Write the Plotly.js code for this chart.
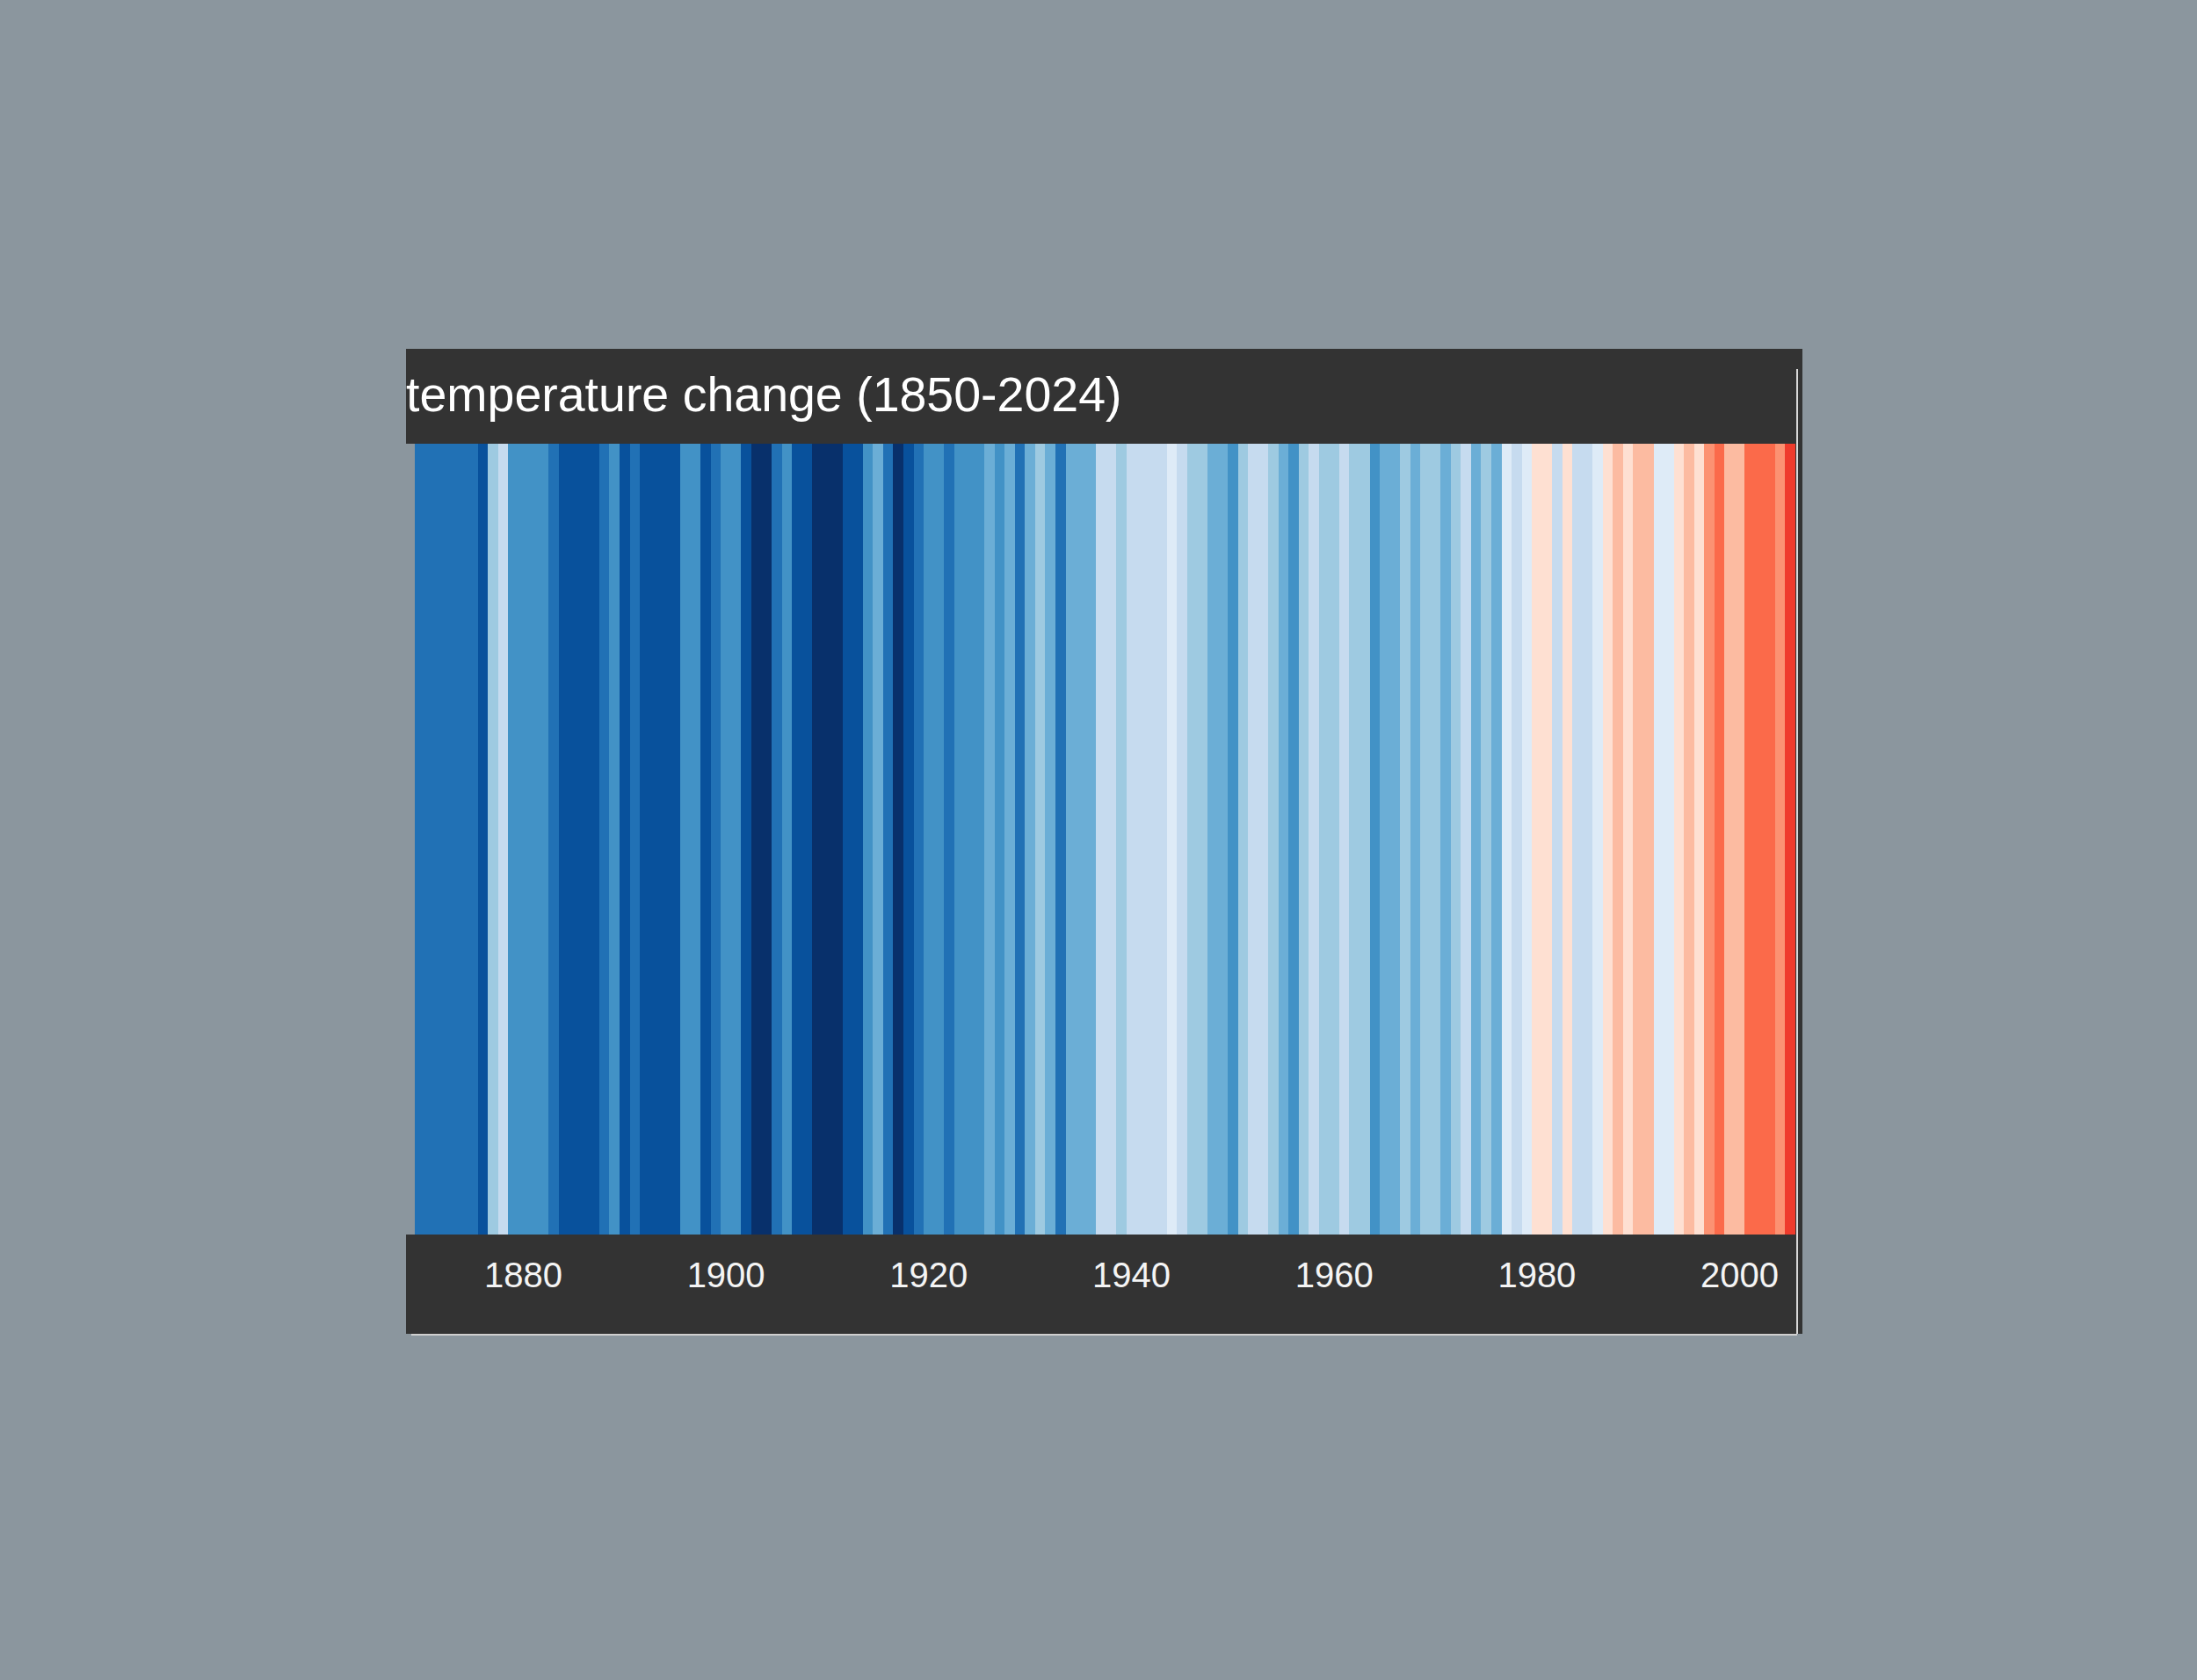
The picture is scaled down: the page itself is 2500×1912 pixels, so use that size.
<!DOCTYPE html>
<html>
<head>
<meta charset="utf-8">
<script src="https://cdn.plot.ly/plotly-3.0.1.min.js"></script>
<style>
  html, body { margin: 0; padding: 0; background: #8b969e; }
  #chart { width: 2500px; height: 1912px; }
</style>
</head>
<body>
<div id="chart"></div>
<script>
// Years visible in the reference picture
const years = [];
for (let y = 1869; y <= 2005; y++) years.push(y);

// Colour class of each stripe (0 = darkest blue ... 7 = palest blue, 8 = palest red ... 15 = darkest red)
const colorClass = [
  2,                                   // 1869 (only a sliver visible)
  2, 2, 2, 2, 2, 2, 1, 5, 6, 3,        // 1870-1879
  3, 3, 3, 2, 1, 1, 1, 1, 2, 3,        // 1880-1889
  1, 2, 1, 1, 1, 1, 3, 3, 1, 2,        // 1890-1899
  3, 3, 1, 0, 0, 2, 3, 1, 1, 0,        // 1900-1909
  0, 0, 1, 1, 3, 4, 2, 0, 1, 2,        // 1910-1919
  3, 3, 2, 3, 3, 3, 4, 3, 4, 2,        // 1920-1929
  4, 5, 4, 2, 4, 4, 4, 6, 6, 5,        // 1930-1939
  6, 6, 6, 6, 7, 6, 5, 5, 4, 4,        // 1940-1949
  3, 5, 6, 6, 5, 4, 3, 5, 6, 5,        // 1950-1959
  5, 6, 5, 5, 3, 4, 4, 5, 4, 5,        // 1960-1969
  5, 4, 5, 6, 4, 5, 4, 7, 6, 7,        // 1970-1979
  8, 8, 6, 8, 6, 6, 7, 8, 9, 8,        // 1980-1989
  9, 9, 7, 7, 8, 9, 8, 10, 11, 9,      // 1990-1999
  9, 11, 11, 11, 10, 12                // 2000-2005
];

// Stripe palette (ColorBrewer RdBu-style, blues then reds)
const palette = [
  '#08306b', '#08519c', '#2171b5', '#4292c6', '#6baed6', '#9ecae1', '#c6dbef', '#deebf7',
  '#fee0d2', '#fcbba1', '#fc9272', '#fb6a4a', '#ef3b2c', '#cb181d', '#a50f15', '#67000d'
];

const tickYears = [1880, 1900, 1920, 1940, 1960, 1980, 2000];
const titleText = 'temperature change (1850-2024)';

// Discrete colourscale built from the palette
const n = palette.length;
const colorscale = [];
palette.forEach((c, i) => {
  colorscale.push([i / n, c]);
  colorscale.push([(i + 1) / n, c]);
});

const W = 2500, H = 1912;
const L = 472, R = 457, T = 505, B = 507;
const plotW = W - L - R, plotH = H - T - B;
const px = x => (x - L) / plotW;          // pixel -> paper x
const py = y => (H - B - y) / plotH;      // pixel -> paper y

const CARD = '#333333';
const shapes = [
  // title band
  {type: 'rect', xref: 'paper', yref: 'paper', x0: px(462), x1: px(2051), y0: py(505), y1: py(397),
   fillcolor: CARD, line: {width: 0}, layer: 'below'},
  // axis band
  {type: 'rect', xref: 'paper', yref: 'paper', x0: px(462), x1: px(2051), y0: py(1518), y1: py(1405),
   fillcolor: CARD, line: {width: 0}, layer: 'below'},
  // right edge of the card
  {type: 'rect', xref: 'paper', yref: 'paper', x0: px(2043), x1: px(2051), y0: py(1518), y1: py(397),
   fillcolor: CARD, line: {width: 0}, layer: 'above'},
  {type: 'line', xref: 'paper', yref: 'paper', x0: px(2045), x1: px(2045), y0: py(1518), y1: py(420),
   line: {color: '#d8d8d8', width: 2}, layer: 'above'},
  {type: 'line', xref: 'paper', yref: 'paper', x0: px(468), x1: px(2045), y0: py(1519), y1: py(1519),
   line: {color: '#cfcfcf', width: 2}, layer: 'above'}
];

const trace = {
  type: 'bar',
  x: years,
  y: years.map(() => 1),
  width: years.map(() => 1),
  marker: {
    // class i is mapped to the middle of its bin
    color: colorClass.map(c => c + 0.5),
    colorscale: colorscale,
    cmin: 0, cmax: n,
    line: {width: 0}
  },
  hoverinfo: 'skip',
  showlegend: false
};

const layout = {
  width: W, height: H,
  paper_bgcolor: '#8b969e',
  plot_bgcolor: '#333333',
  margin: {l: L, r: R, t: T, b: B, pad: 0},
  bargap: 0,
  showlegend: false,
  title: {
    text: titleText,
    x: 462 / W, xanchor: 'left', xref: 'container',
    y: 1 - 449 / H, yanchor: 'middle', yref: 'container',
    font: {family: 'Liberation Sans, Arial, sans-serif', size: 55.5, color: '#ffffff'}
  },
  xaxis: {
    range: [1869.3, 2005.5],
    tickvals: tickYears,
    ticktext: tickYears.map(String),
    ticks: '',
    showgrid: false, zeroline: false, showline: false,
    ticklabelstandoff: 19,
    tickfont: {family: 'Liberation Sans, Arial, sans-serif', size: 40, color: '#f4f4f4'},
    fixedrange: true
  },
  yaxis: {range: [0, 1], visible: false, fixedrange: true},
  shapes: shapes
};

Plotly.newPlot('chart', [trace], layout, {displayModeBar: false, staticPlot: true});
</script>
</body>
</html>
